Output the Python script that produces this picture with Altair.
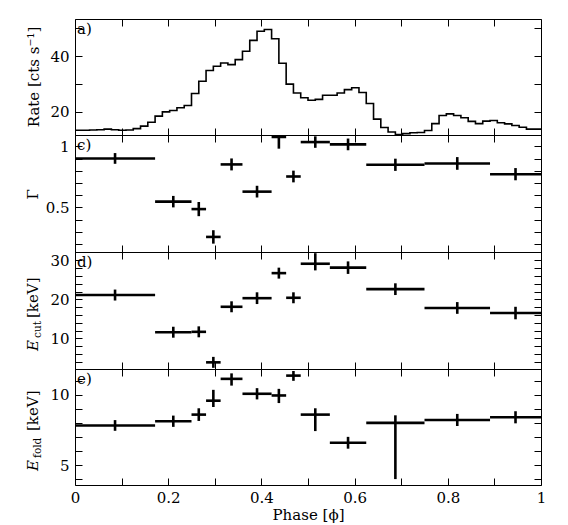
import altair as alt
import pandas as pd

# ---------------- data ----------------
# a) pulse profile, 64 phase bins
rate = [13.4, 13.4, 13.5, 13.6, 13.8, 13.6, 13.4, 13.5, 14.0, 14.9, 16.3, 18.5, 20.0, 20.5, 21.5, 22.3,
        26.6, 31.0, 34.9, 36.4, 37.6, 37.0, 38.8, 41.8, 45.7, 49.0, 49.6, 46.3, 37.5, 30.0, 26.8, 25.1,
        24.2, 24.5, 26.0, 26.0, 26.8, 28.0, 28.7, 27.0, 23.0, 17.4, 14.4, 12.8, 11.9, 12.2, 12.5, 12.6,
        13.3, 15.8, 18.7, 19.3, 18.7, 17.9, 16.6, 15.8, 16.7, 16.9, 16.1, 15.7, 15.1, 14.5, 13.8, 13.8]

# phase-resolved spectral bins
phase_lo = [0.0, 0.171875, 0.25, 0.28125, 0.3125, 0.359375, 0.421875, 0.453125, 0.484375, 0.546875, 0.625, 0.75, 0.890625]
phase_hi = [0.171875, 0.25, 0.28125, 0.3125, 0.359375, 0.421875, 0.453125, 0.484375, 0.546875, 0.625, 0.75, 0.890625, 1.0]

gamma = [0.901, 0.547, 0.486, 0.258, 0.852, 0.629, 1.077, 0.753, 1.035, 1.016, 0.849, 0.860, 0.772]
gamma_lo = [0.857, 0.500, 0.428, 0.203, 0.803, 0.581, 0.981, 0.705, 0.988, 0.968, 0.799, 0.808, 0.722]
gamma_hi = [0.945, 0.594, 0.544, 0.313, 0.901, 0.677, 1.170, 0.801, 1.082, 1.064, 0.899, 0.912, 0.822]

ecut = [21.1, 11.6, 11.7, 3.9, 18.1, 20.3, 26.7, 20.4, 29.1, 28.1, 22.6, 17.8, 16.5]
ecut_lo = [19.7, 10.2, 10.3, 2.5, 16.7, 18.8, 25.3, 19.0, 27.4, 26.5, 21.1, 16.3, 14.9]
ecut_hi = [22.5, 13.0, 13.1, 5.3, 19.5, 21.8, 28.1, 21.8, 31.8, 29.7, 24.1, 19.3, 18.1]

efold = [7.82, 8.12, 8.59, 9.58, 11.13, 10.07, 9.95, 11.36, 8.59, 6.59, 8.00, 8.21, 8.40]
efold_lo = [7.44, 7.72, 8.14, 9.13, 10.65, 9.67, 9.41, 10.99, 7.42, 6.17, 4.01, 7.78, 7.97]
efold_hi = [8.20, 8.52, 9.04, 10.35, 11.52, 10.47, 10.42, 11.69, 9.04, 7.01, 8.54, 8.64, 8.83]

x_ticks = [0.0, 0.1, 0.2, 0.3, 0.4, 0.5, 0.6, 0.7, 0.8, 0.9, 1.0]
x_labels = [0.0, 0.2, 0.4, 0.6, 0.8, 1.0]

# ---------------- tables ----------------
n_bins = len(rate)
rate_df = pd.DataFrame({
    "phase": [i / n_bins for i in range(n_bins)] + [1.0],
    "rate": rate + [rate[-1]],
})
params = pd.DataFrame({
    "plo": phase_lo, "phi": phase_hi,
    "pc": [(a + b) / 2 for a, b in zip(phase_lo, phase_hi)],
    "gamma": gamma, "gamma_lo": gamma_lo, "gamma_hi": gamma_hi,
    "ecut": ecut, "ecut_lo": ecut_lo, "ecut_hi": ecut_hi,
    "efold": efold, "efold_lo": efold_lo, "efold_hi": efold_hi,
})

W = 466
FONT = "DejaVu Serif"
FS = 15
xscale = alt.Scale(domain=[0, 1], nice=False, zero=False)


def label_expr(vals):
    cond = " || ".join(f"datum.value == {v}" for v in vals)
    return f"({cond}) ? datum.label : ''"


def yaxis(values, labels):
    return alt.Axis(values=values, format="~f", labelExpr=label_expr(labels),
                    grid=True, gridDash=[7, W - 14, 7], gridColor="black", gridOpacity=1, gridWidth=1,
                    ticks=False, tickSize=0, domain=False, title=None, labelPadding=6,
                    labelFont=FONT, labelFontSize=FS, labelColor="black",
                    labelFlush=False, labelOverlap=False)


def xaxis(H, show):
    kw = dict(values=x_ticks, format="~f", grid=True, gridDash=[7, H - 14, 7], gridColor="black",
              gridOpacity=1, gridWidth=1, ticks=False, tickSize=0, domain=False,
              labelFlush=False, labelOverlap=False)
    if show:
        return alt.Axis(labelExpr=label_expr(x_labels), labelFont=FONT, labelFontSize=FS,
                        labelColor="black", labelPadding=5, title="Phase [ϕ]", titleFont=FONT,
                        titleFontSize=FS, titleFontWeight="normal", titleColor="black",
                        titlePadding=2, **kw)
    return alt.Axis(labels=False, title=None, **kw)


def text_layer(txt, x, y, size=FS, angle=0, align="left", baseline="middle", style="normal"):
    return alt.Chart(pd.DataFrame({"t": [txt]})).mark_text(
        font=FONT, fontSize=size, angle=angle, align=align, baseline=baseline,
        fontStyle=style, color="black", clip=False
    ).encode(text="t:N", x=alt.value(x), y=alt.value(y))


# ---------------- panel a ----------------
Ha = 116
ya = alt.Scale(domain=[11.7, 53.4], nice=False, zero=False)
ax_a = yaxis([20, 30, 40, 50], [20, 40])
line = alt.Chart(rate_df).mark_line(interpolate="step-after", color="black", strokeWidth=1.6, clip=True).encode(
    x=alt.X("phase:Q", scale=xscale, axis=xaxis(Ha, False)),
    y=alt.Y("rate:Q", scale=ya, axis=ax_a),
)
panel_a = alt.layer(
    line,
    text_layer("a)", 2, 10),
    text_layer("Rate [cts s⁻¹]", -36, Ha / 2, angle=270, align="center", baseline="alphabetic"),
).properties(width=W, height=Ha)


def err_panel(col, dom, yvals, ylabels, H, show_x, letter, title_parts):
    ys = alt.Scale(domain=dom, nice=False, zero=False)
    ax_y = yaxis(yvals, ylabels)
    ax_x = xaxis(H, show_x)
    base = alt.Chart(params)
    hbar = base.mark_rule(color="black", strokeWidth=2.6, clip=True).encode(
        x=alt.X("plo:Q", scale=xscale, axis=ax_x), x2="phi:Q",
        y=alt.Y(f"{col}:Q", scale=ys, axis=ax_y),
    )
    vbar = base.mark_rule(color="black", strokeWidth=2.6, clip=True).encode(
        x=alt.X("pc:Q", scale=xscale, axis=ax_x),
        y=alt.Y(f"{col}_lo:Q", scale=ys, axis=ax_y), y2=f"{col}_hi:Q",
    )
    layers = [hbar, vbar, text_layer(letter, 2, 10)]
    for (txt, x, y, size, style) in title_parts:
        layers.append(text_layer(txt, x, y, size=size, angle=270, align="left",
                                 baseline="alphabetic", style=style))
    return alt.layer(*layers).properties(width=W, height=H)


Hc, Hd, He = 117, 117, 116
panel_c = err_panel("gamma", [0.1345, 1.093], [0.2, 0.3, 0.4, 0.5, 0.6, 0.7, 0.8, 0.9, 1.0], [0.5, 1.0],
                    Hc, False, "c)", [("Γ", -37.5, Hc / 2 + 6, FS, "normal")])
panel_d = err_panel("ecut", [2.2, 32.1], list(range(4, 33, 2)), [10, 20, 30],
                    Hd, False, "d)",
                    [("E", -37.5, 99, FS, "italic"), ("cut", -34, 86, 10.5, "normal"),
                     ("[keV]", -37.5, 66, FS, "normal")])
panel_e = err_panel("efold", [3.59, 11.83], list(range(4, 12)), [5, 10],
                    He, True, "e)",
                    [("E", -37.5, 102, FS, "italic"), ("fold", -34, 89, 10.5, "normal"),
                     ("[keV]", -37.5, 62, FS, "normal")])

chart = alt.vconcat(panel_a, panel_c, panel_d, panel_e, spacing=0, bounds="flush").properties(
    padding={"left": 17, "top": 10, "right": 5, "bottom": 0},
    background="white",
).configure_view(stroke="black", strokeWidth=1)

chart.save("out.html", embed_options={"renderer": "svg", "actions": False})
